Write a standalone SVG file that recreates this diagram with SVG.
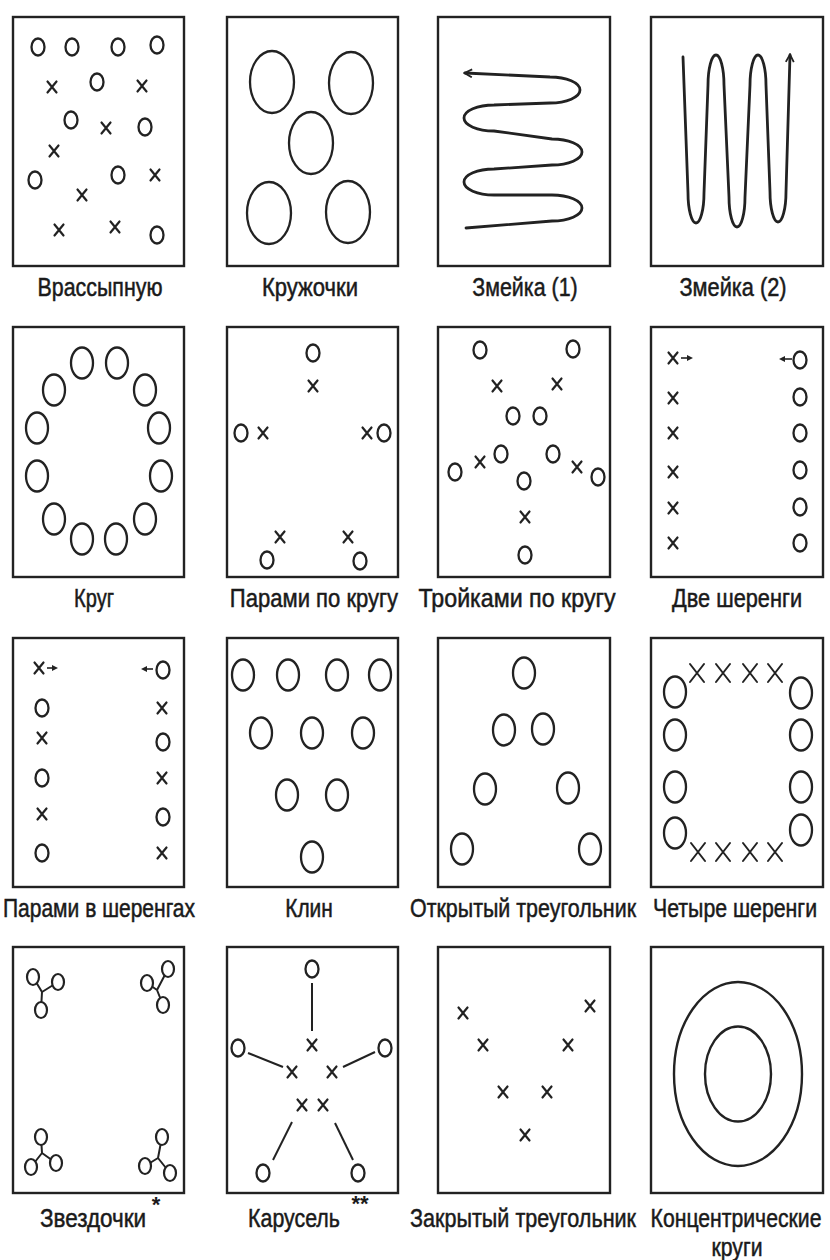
<svg xmlns="http://www.w3.org/2000/svg" width="830" height="1260" viewBox="0 0 830 1260">
<style>
.bg{fill:#fff}
.box{fill:none;stroke:#222;stroke-width:2.4}
.o{fill:none;stroke:#222;stroke-width:2.3}
.ow{fill:#fff;stroke:#222;stroke-width:2.2}
.x{fill:none;stroke:#222;stroke-width:2.2;stroke-linecap:round}
.ln{fill:none;stroke:#222;stroke-width:2}
.snake{fill:none;stroke:#222;stroke-width:2.8;stroke-linecap:round;stroke-linejoin:round}
.lbl{font-family:"Liberation Sans",Arial,sans-serif;font-size:25px;fill:#1a1a1a;stroke:#1a1a1a;stroke-width:0.5;text-anchor:middle}
.star{font-family:"Liberation Sans",Arial,sans-serif;font-size:22px;font-weight:bold;fill:#1a1a1a;text-anchor:middle}
.ar{fill:#222;stroke:none}
</style>
<defs>
<path id="xs" class="x" d="M-4.5,-5.5 L4.5,5.5 M4.5,-5.5 L-4.5,5.5"/>
<path id="xl" class="x" d="M-7,-9 L7,9 M7,-9 L-7,9" style="stroke-width:2"/>
<ellipse id="os" class="o" rx="6.5" ry="8.5"/>
<ellipse id="om" class="o" rx="11" ry="15.5"/>
<ellipse id="ol" class="o" rx="22" ry="31"/>
<ellipse id="osw" class="ow" rx="6" ry="8"/>
<marker id="arr" viewBox="0 0 10 10" refX="8" refY="5" markerWidth="10" markerHeight="10" markerUnits="userSpaceOnUse" orient="auto">
<path d="M1,1 L8.5,5 L1,9" fill="none" stroke="#222" stroke-width="1.8"/>
</marker>
</defs>
<rect class="bg" width="830" height="1260"/>

<g id="p01-vrassypnuyu">
<rect class="box" x="13" y="17" width="171" height="249"/>
<use href="#os" x="38" y="47"/><use href="#os" x="72" y="47"/><use href="#os" x="118" y="47"/><use href="#os" x="157" y="45"/>
<use href="#os" x="97" y="82"/><use href="#os" x="71" y="120"/><use href="#os" x="145" y="127"/>
<use href="#os" x="35" y="180"/><use href="#os" x="118" y="175"/><use href="#os" x="157" y="235"/>
<use href="#xs" x="52" y="87"/><use href="#xs" x="142" y="86"/><use href="#xs" x="106" y="128"/><use href="#xs" x="54" y="151"/>
<use href="#xs" x="155" y="175"/><use href="#xs" x="82" y="195"/><use href="#xs" x="59" y="230"/><use href="#xs" x="115" y="227"/>
<text class="lbl" transform="translate(100,296) scale(0.85,1)" textLength="147" lengthAdjust="spacingAndGlyphs">Врассыпную</text>
</g>

<g id="p02-kruzhochki">
<rect class="box" x="227" y="17" width="171" height="249"/>
<use href="#ol" x="272" y="82"/><use href="#ol" x="351" y="83"/><use href="#ol" x="311" y="143"/>
<use href="#ol" x="269" y="213"/><use href="#ol" x="348" y="212"/>
<text class="lbl" transform="translate(310,296) scale(0.85,1)" textLength="113" lengthAdjust="spacingAndGlyphs">Кружочки</text>
</g>

<g id="p03-zmeyka1">
<rect class="box" x="438" y="17" width="172" height="249"/>
<path class="snake" marker-end="url(#arr)" d="M466,228 L552,221 A30,13 0 0 0 552,195 L494,195 A30,13 0 0 1 494,169 L552,165 A30,13 0 0 0 552,139 L494,131 A30,13 0 0 1 494,105 L550,103 A30,13 0 0 0 550,77 L465,73"/>
<text class="lbl" transform="translate(525,296) scale(0.85,1)" textLength="124" lengthAdjust="spacingAndGlyphs">Змейка (1)</text>
</g>

<g id="p04-zmeyka2">
<rect class="box" x="651" y="17" width="172" height="249"/>
<path class="snake" marker-end="url(#arr)" d="M683,57 L688,193 A8,30 0 0 0 704,193 L708,85 A8,30 0 0 1 724,85 L729,197 A8,30 0 0 0 745,197 L750,85 A8,30 0 0 1 766,85 L770,192 A8,30 0 0 0 786,192 L790,55"/>
<text class="lbl" transform="translate(733,296) scale(0.85,1)" textLength="126" lengthAdjust="spacingAndGlyphs">Змейка (2)</text>
</g>

<g id="p05-krug">
<rect class="box" x="13" y="327" width="171" height="250"/>
<use href="#om" x="82" y="363"/><use href="#om" x="117" y="363"/>
<use href="#om" x="54" y="390"/><use href="#om" x="145" y="390"/>
<use href="#om" x="37" y="428"/><use href="#om" x="159" y="428"/>
<use href="#om" x="37" y="476"/><use href="#om" x="161" y="476"/>
<use href="#om" x="54" y="519"/><use href="#om" x="145" y="519"/>
<use href="#om" x="82" y="539"/><use href="#om" x="116" y="539"/>
<text class="lbl" transform="translate(94,607) scale(0.85,1)" textLength="47" lengthAdjust="spacingAndGlyphs">Круг</text>
</g>

<g id="p06-parami-po-krugu">
<rect class="box" x="227" y="327" width="171" height="250"/>
<use href="#os" x="313" y="353"/><use href="#xs" x="313" y="386"/>
<use href="#os" x="241" y="433"/><use href="#xs" x="263" y="433"/>
<use href="#xs" x="367" y="433"/><use href="#os" x="384" y="433"/>
<use href="#xs" x="280" y="537"/><use href="#os" x="267" y="560"/>
<use href="#xs" x="348" y="537"/><use href="#os" x="360" y="561"/>
<text class="lbl" transform="translate(314,607) scale(0.85,1)" textLength="198" lengthAdjust="spacingAndGlyphs">Парами по кругу</text>
</g>

<g id="p07-troykami-po-krugu">
<rect class="box" x="438" y="327" width="172" height="250"/>
<use href="#os" x="480" y="350"/><use href="#os" x="573" y="349"/>
<use href="#xs" x="497" y="386"/><use href="#xs" x="557" y="384"/>
<use href="#os" x="513" y="416"/><use href="#os" x="540" y="416"/>
<use href="#os" x="501" y="454"/><use href="#xs" x="480" y="462"/><use href="#os" x="455" y="472"/>
<use href="#os" x="553" y="454"/><use href="#xs" x="577" y="467"/><use href="#os" x="598" y="477"/>
<use href="#os" x="524" y="481"/><use href="#xs" x="525" y="517"/><use href="#os" x="525" y="555"/>
<text class="lbl" transform="translate(517,607) scale(0.85,1)" textLength="232" lengthAdjust="spacingAndGlyphs">Тройками по кругу</text>
</g>

<g id="p08-dve-sherengi">
<rect class="box" x="651" y="327" width="172" height="250"/>
<use href="#xs" x="673" y="358"/>
<path class="ln" d="M681,358 H689" style="stroke-width:1.6"/><path class="ar" d="M693,358 L687,355 L687,361 Z"/>
<use href="#xs" x="673" y="398"/><use href="#xs" x="673" y="433"/><use href="#xs" x="673" y="472"/><use href="#xs" x="673" y="508"/><use href="#xs" x="673" y="543"/>
<path class="ln" d="M792,359 H783" style="stroke-width:1.6"/><path class="ar" d="M779,359 L785,356 L785,362 Z"/>
<use href="#os" x="800" y="360"/><use href="#os" x="800" y="397"/><use href="#os" x="800" y="433"/><use href="#os" x="800" y="470"/><use href="#os" x="800" y="507"/><use href="#os" x="800" y="543"/>
<text class="lbl" transform="translate(737,607) scale(0.85,1)" textLength="153" lengthAdjust="spacingAndGlyphs">Две шеренги</text>
</g>

<g id="p09-parami-v-sherengah">
<rect class="box" x="13" y="638" width="171" height="249"/>
<use href="#xs" x="39" y="668"/>
<path class="ln" d="M47,668 H54" style="stroke-width:1.6"/><path class="ar" d="M58,668 L52,665 L52,671 Z"/>
<use href="#os" x="42" y="708"/><use href="#xs" x="42" y="738"/><use href="#os" x="42" y="778"/><use href="#xs" x="42" y="814"/><use href="#os" x="42" y="853"/>
<path class="ln" d="M153,669 H145" style="stroke-width:1.6"/><path class="ar" d="M141,669 L147,666 L147,672 Z"/>
<use href="#os" x="163" y="670"/><use href="#xs" x="162" y="708"/><use href="#os" x="163" y="742"/><use href="#xs" x="162" y="778"/><use href="#os" x="163" y="817"/><use href="#xs" x="162" y="853"/>
<text class="lbl" transform="translate(99,917) scale(0.85,1)" textLength="226" lengthAdjust="spacingAndGlyphs">Парами в шеренгах</text>
</g>

<g id="p10-klin">
<rect class="box" x="227" y="638" width="171" height="249"/>
<use href="#om" x="243" y="675"/><use href="#om" x="288" y="675"/><use href="#om" x="337" y="675"/><use href="#om" x="380" y="675"/>
<use href="#om" x="261" y="733"/><use href="#om" x="312" y="733"/><use href="#om" x="363" y="733"/>
<use href="#om" x="287" y="795"/><use href="#om" x="337" y="795"/>
<use href="#om" x="312" y="857"/>
<text class="lbl" transform="translate(309,917) scale(0.85,1)" textLength="56" lengthAdjust="spacingAndGlyphs">Клин</text>
</g>

<g id="p11-otkrytyy-treugolnik">
<rect class="box" x="438" y="638" width="172" height="249"/>
<use href="#om" x="524" y="673"/>
<use href="#om" x="504" y="730"/><use href="#om" x="543" y="729"/>
<use href="#om" x="485" y="789"/><use href="#om" x="568" y="788"/>
<use href="#om" x="462" y="849"/><use href="#om" x="590" y="849"/>
<text class="lbl" transform="translate(523,917) scale(0.85,1)" textLength="266" lengthAdjust="spacingAndGlyphs">Открытый треугольник</text>
</g>

<g id="p12-chetyre-sherengi">
<rect class="box" x="651" y="638" width="172" height="249"/>
<use href="#xl" x="697" y="673"/><use href="#xl" x="723" y="673"/><use href="#xl" x="750" y="673"/><use href="#xl" x="775" y="673"/>
<use href="#xl" x="698" y="852"/><use href="#xl" x="723" y="852"/><use href="#xl" x="750" y="852"/><use href="#xl" x="775" y="852"/>
<use href="#om" x="675" y="692"/><use href="#om" x="675" y="735"/><use href="#om" x="675" y="787"/><use href="#om" x="675" y="833"/>
<use href="#om" x="801" y="693"/><use href="#om" x="801" y="735"/><use href="#om" x="801" y="787"/><use href="#om" x="801" y="830"/>
<text class="lbl" transform="translate(735,917) scale(0.85,1)" textLength="193" lengthAdjust="spacingAndGlyphs">Четыре шеренги</text>
</g>

<g id="p13-zvezdochki">
<rect class="box" x="13" y="947" width="171" height="246"/>
<path class="ln" d="M42,992 L33,977 M42,992 L58,982 M42,992 L41,1010"/>
<use href="#osw" x="33" y="977"/><use href="#osw" x="58" y="982"/><use href="#osw" x="41" y="1010"/>
<path class="ln" d="M157,990 L147,983 M157,990 L168,969 M157,990 L163,1005"/>
<use href="#osw" x="147" y="983"/><use href="#osw" x="168" y="969"/><use href="#osw" x="163" y="1005"/>
<path class="ln" d="M42,1153 L41,1137 M42,1153 L31,1167 M42,1153 L56,1163"/>
<use href="#osw" x="41" y="1137"/><use href="#osw" x="31" y="1167"/><use href="#osw" x="56" y="1163"/>
<path class="ln" d="M158,1158 L162,1137 M158,1158 L145,1166 M158,1158 L170,1173"/>
<use href="#osw" x="162" y="1137"/><use href="#osw" x="145" y="1166"/><use href="#osw" x="170" y="1173"/>
<text class="lbl" transform="translate(93,1227) scale(0.85,1)" textLength="125" lengthAdjust="spacingAndGlyphs">Звездочки</text>
<text class="star" x="156" y="1212">*</text>
</g>

<g id="p14-karusel">
<rect class="box" x="227" y="947" width="171" height="246"/>
<use href="#os" x="312" y="969"/>
<use href="#xs" x="312" y="1045"/>
<use href="#os" x="238" y="1048"/><use href="#xs" x="292" y="1072"/>
<use href="#os" x="385" y="1048"/><use href="#xs" x="332" y="1072"/>
<use href="#xs" x="302" y="1105"/><use href="#xs" x="323" y="1105"/>
<use href="#os" x="263" y="1173"/><use href="#os" x="358" y="1173"/>
<text class="lbl" transform="translate(294,1227) scale(0.85,1)" textLength="108" lengthAdjust="spacingAndGlyphs">Карусель</text>
<text class="star" x="360" y="1211">**</text>
</g>

<g id="p15-zakrytyy-treugolnik">
<rect class="box" x="438" y="947" width="172" height="246"/>
<use href="#xs" x="463" y="1013"/><use href="#xs" x="590" y="1006"/>
<use href="#xs" x="483" y="1045"/><use href="#xs" x="568" y="1045"/>
<use href="#xs" x="503" y="1092"/><use href="#xs" x="547" y="1092"/>
<use href="#xs" x="525" y="1135"/>
<text class="lbl" transform="translate(523,1227) scale(0.85,1)" textLength="266" lengthAdjust="spacingAndGlyphs">Закрытый треугольник</text>
</g>

<g id="p16-kontsentricheskie-krugi">
<rect class="box" x="651" y="947" width="172" height="246"/>
<ellipse class="o" cx="738" cy="1074" rx="64" ry="92" style="stroke-width:2.4"/>
<ellipse class="o" cx="738" cy="1074" rx="33" ry="47.5" style="stroke-width:2.4"/>
<text class="lbl" transform="translate(736,1227) scale(0.85,1)" textLength="201" lengthAdjust="spacingAndGlyphs">Концентрические</text>
<text class="lbl" transform="translate(737,1256) scale(0.85,1)" textLength="60" lengthAdjust="spacingAndGlyphs">круги</text>
</g>

<g id="connectors">
<path class="ln" d="M312,983 V1031"/>
<path class="ln" d="M248,1053 L283,1067"/>
<path class="ln" d="M375,1052 L343,1067"/>
<path class="ln" d="M292,1122 L273,1160"/>
<path class="ln" d="M335,1123 L353,1160"/>
</g>
</svg>
